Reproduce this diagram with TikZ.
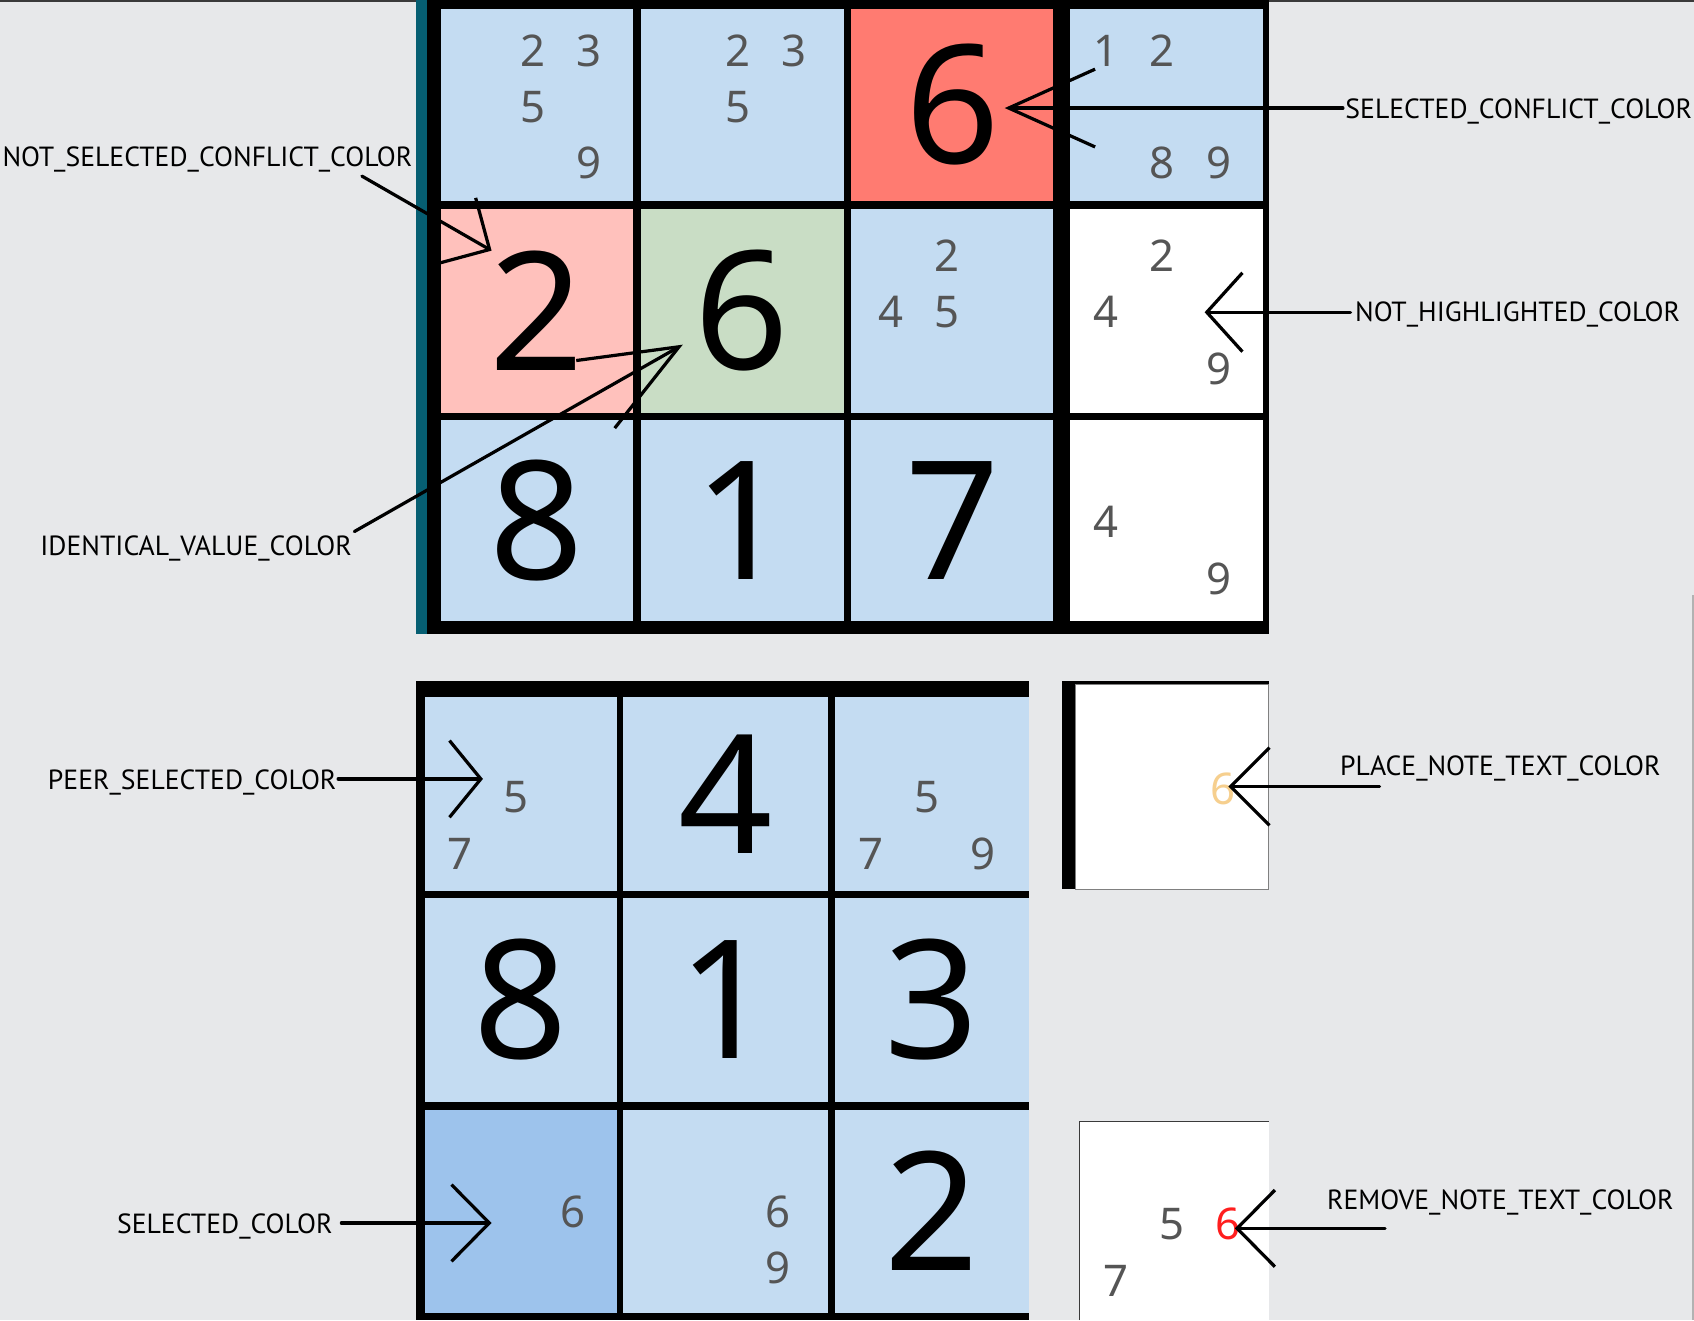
\documentclass[tikz,border=0pt]{standalone}
\usepackage{fontspec}
\setmainfont{Noto Sans}
\newfontfamily\tagfont{PT Sans}
\usetikzlibrary{arrows.meta}

\definecolor{pagebg}{HTML}{E7E8EA}
\definecolor{peerblue}{HTML}{C4DCF2}
\definecolor{selblue}{HTML}{9DC3EC}
\definecolor{conflictred}{HTML}{FF7B71}
\definecolor{conflictpink}{HTML}{FFC1BC}
\definecolor{samegreen}{HTML}{C9DDC5}
\definecolor{barteal}{HTML}{065E72}
\definecolor{notegray}{HTML}{555555}
\definecolor{placeorange}{HTML}{F6CF8E}
\definecolor{removered}{HTML}{FF1E1E}
\definecolor{topline}{HTML}{3A3A3A}

\begin{document}
\begin{tikzpicture}
[x=0.2mm,y=-0.2mm,
big/.style={inner sep=0pt,font=\fontsize{87}{87}\selectfont},
note/.style={inner sep=0pt,text=notegray,font=\fontsize{23}{23}\selectfont},
tag/.style={inner sep=0pt,anchor=west,font=\tagfont\fontsize{14.6}{14.6}\selectfont},
pointer/.style={line width=1.7pt,line cap=round},]

\useasboundingbox (0,0) rectangle (1568,1222);
\fill[pagebg] (0,0) rectangle (1568,1222);
\fill[topline] (0,0) rectangle (1568,2);
\fill[gray!60] (1566,551) rectangle (1568,1222);

% upper block
\fill[barteal] (385,0) rectangle (395,587);
\fill[black] (395,0) rectangle (1175,587);
\fill[peerblue] (408,8) rectangle (586,186);
\fill[peerblue] (593,8) rectangle (781,186);
\fill[conflictred] (788,8) rectangle (975,186);
\fill[peerblue] (990,8) rectangle (1169,186);
\fill[conflictpink] (408,193) rectangle (586,382);
\fill[samegreen] (593,193) rectangle (781,382);
\fill[peerblue] (788,193) rectangle (975,382);
\fill[white] (990,193) rectangle (1169,382);
\fill[peerblue] (408,389) rectangle (586,575);
\fill[peerblue] (593,389) rectangle (781,575);
\fill[peerblue] (788,389) rectangle (975,575);
\fill[white] (990,389) rectangle (1169,575);

\node (u13) at (881.5,97)[big]{6};
\node (u21) at (497,287.5)[big]{2};
\node (u22) at (687,287.5)[big]{6};
\node (u31) at (497,482)[big]{8};
\node (u32) at (687,482)[big]{1};
\node (u33) at (881.5,482)[big]{7};

% lower block
\fill[black] (385,630) rectangle (952,1222);
\fill[peerblue] (393,645) rectangle (571,825);
\fill[peerblue] (577,645) rectangle (766,825);
\fill[peerblue] (773,645) rectangle (952,825);
\fill[peerblue] (393,831) rectangle (571,1020);
\fill[peerblue] (577,831) rectangle (766,1020);
\fill[peerblue] (773,831) rectangle (952,1020);
\fill[selblue] (393,1027) rectangle (571,1215);
\fill[peerblue] (577,1027) rectangle (766,1215);
\fill[peerblue] (773,1027) rectangle (952,1215);

\node (l12) at (671.5,735)[big]{4};
\node (l21) at (482,925.5)[big]{8};
\node (l22) at (671.5,925.5)[big]{1};
\node (l23) at (862.5,925.5)[big]{3};
\node (l33) at (862.5,1121)[big]{2};

% single cells on the right
\fill[white,draw=gray,line width=0.4pt] (995,633) rectangle (1174,823);
\fill[black] (983,630) rectangle (995,823);
\fill[black] (983,630) rectangle (1175,633);
\fill[white] (999,1038) rectangle (1175,1222);
\draw[topline,line width=0.6pt] (999,1222) -- (999,1038) -- (1175,1038);

% pencil marks
\foreach \px/\py/\d [count=\i] in {493/47/2,545/47/3,493/99/5,545/151/9,
  683/47/2,735/47/3,683/99/5,1024/47/1,1076/47/2,1076/151/8,1128/151/9,
  877/237/2,825/289/4,877/289/5,1076/237/2,1024/289/4,1128/341/9,
  1024/483/4,1128/536/9,478/738/5,426/790/7,858/738/5,806/790/7,910/790/9,
  530/1122/6,720/1122/6,720/1174/9,1085/1133/5,1033/1186/7}
  \node (n\i) at (\px,\py)[note]{\d};
\node (placesix) at (1132,730)[note,text=placeorange]{6};
\node (removesix) at (1137,1133)[note,text=removered]{6};

% colour names
\node (nsc) at (2,148)[tag]{NOT\_SELECTED\_CONFLICT\_COLOR};
\node (sc) at (1245,103)[tag]{SELECTED\_CONFLICT\_COLOR};
\node (nh) at (1254,291)[tag]{NOT\_HIGHLIGHTED\_COLOR};
\node (iv) at (37,508)[tag]{IDENTICAL\_VALUE\_COLOR};
\node (ps) at (44,724)[tag]{PEER\_SELECTED\_COLOR};
\node (pn) at (1240,711)[tag]{PLACE\_NOTE\_TEXT\_COLOR};
\node (sel) at (108,1135)[tag]{SELECTED\_COLOR};
\node (rn) at (1228,1113)[tag]{REMOVE\_NOTE\_TEXT\_COLOR};

\coordinate (sctail) at (1243,100);
\coordinate (nsctail) at (335,163);
\coordinate (nhtail) at (1250,289);
\coordinate (ivtail) at (328,492);
\coordinate (pstail) at (313,721);
\coordinate (seltail) at (316,1132);
\coordinate (pntail) at (1277,728);
\coordinate (rntail) at (1282,1137);
\coordinate (sctip) at (930,100);
\coordinate (nsctip) at (455,232);
\coordinate (nhtip) at (1115,289);
\coordinate (ivtip) at (632,319);
\coordinate (pstip) at (447,721);
\coordinate (seltip) at (455,1132);
\coordinate (pntip) at (1137,728);
\coordinate (rntip) at (1143,1137);

\draw[pointer,-{Straight Barb[length=16mm,width=14.4mm]}] (sctail) -- (sctip);
\draw[pointer,-{Straight Barb[length=7mm,width=14mm]}] (nsctail) -- (nsctip);
\draw[pointer,-{Straight Barb[length=6.6mm,width=14.6mm]}] (nhtail) -- (nhtip);
\draw[pointer,-{Straight Barb[length=17.8mm,width=14.4mm]}] (ivtail) -- (ivtip);
\draw[pointer,-{Straight Barb[length=5.8mm,width=14.2mm]}] (pstail) -- (pstip);
\draw[pointer,-{Straight Barb[length=7mm,width=14.2mm]}] (seltail) -- (seltip);
\draw[pointer,-{Straight Barb[length=7.2mm,width=14.4mm]}] (pntail) -- (pntip);
\draw[pointer,-{Straight Barb[length=7mm,width=14.2mm]}] (rntail) -- (rntip);

\end{tikzpicture}
\end{document}
